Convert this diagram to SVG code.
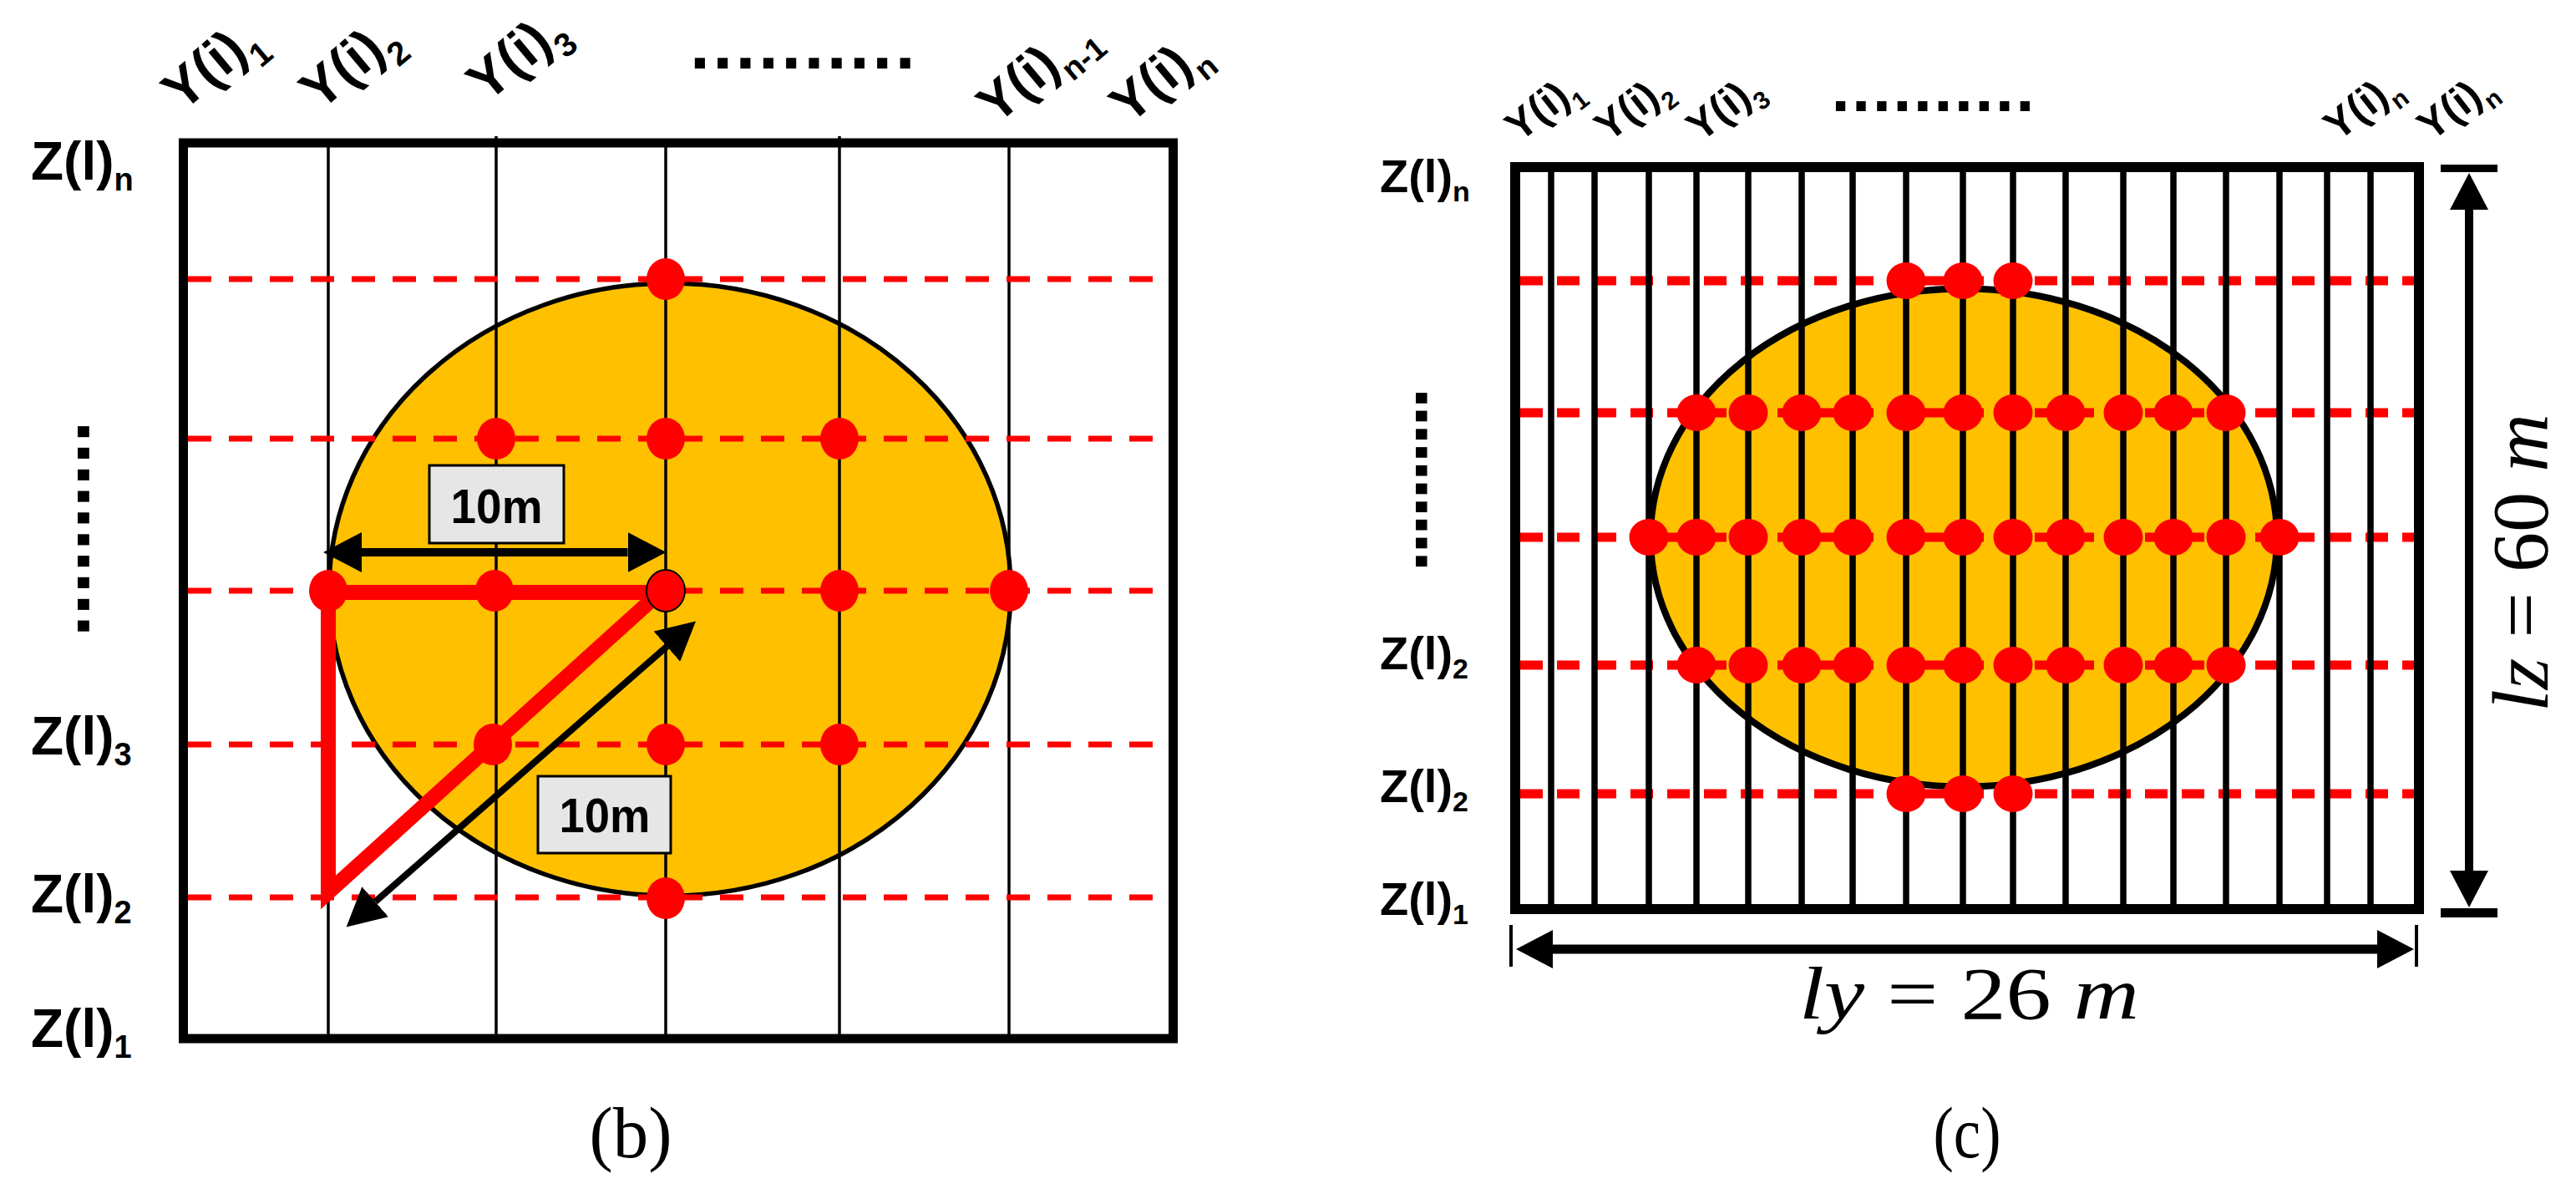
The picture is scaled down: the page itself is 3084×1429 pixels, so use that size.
<svg xmlns="http://www.w3.org/2000/svg" width="3084" height="1429" viewBox="0 0 3084 1429">
<defs>
<style>
.lbl{font-family:"Liberation Sans",Arial,Helvetica,sans-serif;font-weight:bold;fill:#000}
.math{font-family:"Liberation Serif","Times New Roman",Times,serif;fill:#000}
.frame{fill:none;stroke:#000}
.vb{stroke:#000;stroke-width:3.5}
.vc{stroke:#000;stroke-width:7.5}
.dashb{stroke:#f00;stroke-width:7;stroke-dasharray:28 21}
.dashc{stroke:#f00;stroke-width:11;stroke-dasharray:27 17}
.dot{fill:#f00}
.box{fill:#e6e6e6;stroke:#000;stroke-width:3}
.arr{stroke:#000;fill:none}
</style>
<marker id="ahb" viewBox="0 0 46 48" markerWidth="46" markerHeight="48" refX="0" refY="24" orient="auto-start-reverse" markerUnits="userSpaceOnUse"><path d="M0,0L46,24L0,48z" fill="#000"/></marker>
<marker id="ahc" viewBox="0 0 44 46" markerWidth="44" markerHeight="46" refX="0" refY="23" orient="auto-start-reverse" markerUnits="userSpaceOnUse"><path d="M0,0L44,23L0,46z" fill="#000"/></marker>
</defs>
<rect width="3084" height="1429" fill="#fff"/>

<!-- ===== Panel (b) ===== -->
<g id="panel-b">
  <g id="b-frame">
    <rect class="frame" x="219.5" y="171" width="1185" height="1072" stroke-width="11"/>
  </g>
  <g id="b-circle">
    <ellipse cx="802" cy="705.5" rx="408" ry="366.5" fill="#FFC000" stroke="#000" stroke-width="5.5"/>
  </g>
  <g id="b-grid-vertical">
    <line class="vb" x1="393" y1="171" x2="393" y2="1243"/>
    <line class="vb" x1="594" y1="163" x2="594" y2="1243"/>
    <line class="vb" x1="797" y1="171" x2="797" y2="1243"/>
    <line class="vb" x1="1005" y1="163" x2="1005" y2="1243"/>
    <line class="vb" x1="1208" y1="171" x2="1208" y2="1243"/>
  </g>
  <g id="b-grid-horizontal">
    <line class="dashb" x1="225" y1="334" x2="1399" y2="334"/>
    <line class="dashb" x1="225" y1="525" x2="1399" y2="525"/>
    <line class="dashb" x1="225" y1="707" x2="1399" y2="707"/>
    <line class="dashb" x1="225" y1="891" x2="1399" y2="891"/>
    <line class="dashb" x1="225" y1="1074" x2="1399" y2="1074"/>
  </g>
  <g id="b-triangle">
    <polygon points="393,709 790,709 393,1068" fill="none" stroke="#f00" stroke-width="18" stroke-linejoin="miter" stroke-miterlimit="4"/>
  </g>
  <g id="b-points">
    <ellipse class="dot" cx="797" cy="334" rx="23" ry="25"/>
    <ellipse class="dot" cx="594" cy="525" rx="23" ry="25"/>
    <ellipse class="dot" cx="797" cy="525" rx="23" ry="25"/>
    <ellipse class="dot" cx="1005" cy="525" rx="23" ry="25"/>
    <ellipse class="dot" cx="393" cy="707" rx="23" ry="25"/>
    <ellipse class="dot" cx="592" cy="707" rx="23" ry="25"/>
    <ellipse class="dot" cx="797" cy="707" rx="23" ry="25" stroke="#000" stroke-width="2"/>
    <ellipse class="dot" cx="1005" cy="707" rx="23" ry="25"/>
    <ellipse class="dot" cx="1208" cy="707" rx="23" ry="25"/>
    <ellipse class="dot" cx="590" cy="891" rx="23" ry="25"/>
    <ellipse class="dot" cx="797" cy="891" rx="23" ry="25"/>
    <ellipse class="dot" cx="1005" cy="891" rx="23" ry="25"/>
    <ellipse class="dot" cx="797" cy="1075" rx="23" ry="25"/>
  </g>
  <g id="b-connectors">
    <line class="arr" x1="433" y1="661" x2="751.5" y2="661" stroke-width="10" marker-start="url(#ahb)" marker-end="url(#ahb)"/>
    <line class="arr" x1="449.2" y1="1079.2" x2="798.4" y2="773.7" stroke-width="8" marker-start="url(#ahb)" marker-end="url(#ahb)"/>
  </g>
  <g id="b-label-10m-h">
    <rect class="box" x="514" y="557" width="161" height="93"/>
    <text class="lbl" x="594.5" y="626" font-size="58" text-anchor="middle" textLength="110" lengthAdjust="spacingAndGlyphs">10m</text>
  </g>
  <g id="b-label-10m-d">
    <rect class="box" x="644" y="929" width="159" height="92"/>
    <text class="lbl" x="724" y="996" font-size="58" text-anchor="middle" textLength="109" lengthAdjust="spacingAndGlyphs">10m</text>
  </g>
  <g id="b-y-labels">
    <text class="lbl" font-size="66" transform="translate(218,135) rotate(-40)">Y(i)<tspan font-size="40" dy="20">1</tspan></text>
    <text class="lbl" font-size="66" transform="translate(383,134) rotate(-40)">Y(i)<tspan font-size="40" dy="20">2</tspan></text>
    <text class="lbl" font-size="66" transform="translate(583,124) rotate(-40)">Y(i)<tspan font-size="40" dy="20">3</tspan></text>
    <text class="lbl" font-size="64" transform="translate(1193,150) rotate(-40)">Y(i)<tspan font-size="38" dy="19">n-1</tspan></text>
    <text class="lbl" font-size="64" transform="translate(1352,150) rotate(-40)">Y(i)<tspan font-size="38" dy="19">n</tspan></text>
    <text class="lbl" x="826" y="82" font-size="86" letter-spacing="3.4">..........</text>
  </g>
  <g id="b-z-labels">
    <text class="lbl" x="37" y="215" font-size="64">Z(l)<tspan font-size="38" dy="13">n</tspan></text>
    <text class="lbl" font-size="93" transform="translate(93,503.7) rotate(90)">..........</text>
    <text class="lbl" x="37" y="903" font-size="64">Z(l)<tspan font-size="38" dy="13">3</tspan></text>
    <text class="lbl" x="37" y="1092" font-size="64">Z(l)<tspan font-size="38" dy="13">2</tspan></text>
    <text class="lbl" x="37" y="1253" font-size="64">Z(l)<tspan font-size="38" dy="13">1</tspan></text>
  </g>
  <text class="math" x="755" y="1385" font-size="86" text-anchor="middle" textLength="99" lengthAdjust="spacingAndGlyphs">(b)</text>
</g>

<!-- ===== Panel (c) ===== -->
<g id="panel-c">
  <g id="c-circle">
    <ellipse cx="2351" cy="643.5" rx="375" ry="298" fill="#FFC000" stroke="#000" stroke-width="8"/>
  </g>
  <g id="c-grid-horizontal">
    <line class="dashc" x1="1820" y1="336" x2="2890" y2="336"/>
    <line class="dashc" x1="1820" y1="494" x2="2890" y2="494"/>
    <line class="dashc" x1="1820" y1="643" x2="2890" y2="643"/>
    <line class="dashc" x1="1820" y1="796" x2="2890" y2="796"/>
    <line class="dashc" x1="1820" y1="950" x2="2890" y2="950"/>
  </g>
  <g id="c-grid-vertical">
    <line class="vc" x1="1857" y1="200" x2="1857" y2="1088"/>
    <line class="vc" x1="1909" y1="200" x2="1909" y2="1088"/>
    <line class="vc" x1="1974" y1="200" x2="1974" y2="1088"/>
    <line class="vc" x1="2031" y1="200" x2="2031" y2="1088"/>
    <line class="vc" x1="2093" y1="200" x2="2093" y2="1088"/>
    <line class="vc" x1="2157" y1="200" x2="2157" y2="1088"/>
    <line class="vc" x1="2218" y1="200" x2="2218" y2="1088"/>
    <line class="vc" x1="2282" y1="200" x2="2282" y2="1088"/>
    <line class="vc" x1="2350" y1="200" x2="2350" y2="1088"/>
    <line class="vc" x1="2410" y1="200" x2="2410" y2="1088"/>
    <line class="vc" x1="2473" y1="200" x2="2473" y2="1088"/>
    <line class="vc" x1="2542" y1="200" x2="2542" y2="1088"/>
    <line class="vc" x1="2602" y1="200" x2="2602" y2="1088"/>
    <line class="vc" x1="2665" y1="200" x2="2665" y2="1088"/>
    <line class="vc" x1="2729" y1="200" x2="2729" y2="1088"/>
    <line class="vc" x1="2786" y1="200" x2="2786" y2="1088"/>
    <line class="vc" x1="2838" y1="200" x2="2838" y2="1088"/>
  </g>
  <g id="c-frame">
    <rect class="frame" x="1814" y="200" width="1082" height="888" stroke-width="12"/>
  </g>
  <g id="c-points">
    <ellipse class="dot" cx="2282" cy="336" rx="23.5" ry="22"/>
    <ellipse class="dot" cx="2350" cy="336" rx="23.5" ry="22"/>
    <ellipse class="dot" cx="2410" cy="336" rx="23.5" ry="22"/>

    <ellipse class="dot" cx="2031" cy="494" rx="23.5" ry="22"/>
    <ellipse class="dot" cx="2093" cy="494" rx="23.5" ry="22"/>
    <ellipse class="dot" cx="2157" cy="494" rx="23.5" ry="22"/>
    <ellipse class="dot" cx="2218" cy="494" rx="23.5" ry="22"/>
    <ellipse class="dot" cx="2282" cy="494" rx="23.5" ry="22"/>
    <ellipse class="dot" cx="2350" cy="494" rx="23.5" ry="22"/>
    <ellipse class="dot" cx="2410" cy="494" rx="23.5" ry="22"/>
    <ellipse class="dot" cx="2473" cy="494" rx="23.5" ry="22"/>
    <ellipse class="dot" cx="2542" cy="494" rx="23.5" ry="22"/>
    <ellipse class="dot" cx="2602" cy="494" rx="23.5" ry="22"/>
    <ellipse class="dot" cx="2665" cy="494" rx="23.5" ry="22"/>

    <ellipse class="dot" cx="1974" cy="643" rx="23.5" ry="22"/>
    <ellipse class="dot" cx="2031" cy="643" rx="23.5" ry="22"/>
    <ellipse class="dot" cx="2093" cy="643" rx="23.5" ry="22"/>
    <ellipse class="dot" cx="2157" cy="643" rx="23.5" ry="22"/>
    <ellipse class="dot" cx="2218" cy="643" rx="23.5" ry="22"/>
    <ellipse class="dot" cx="2282" cy="643" rx="23.5" ry="22"/>
    <ellipse class="dot" cx="2350" cy="643" rx="23.5" ry="22"/>
    <ellipse class="dot" cx="2410" cy="643" rx="23.5" ry="22"/>
    <ellipse class="dot" cx="2473" cy="643" rx="23.5" ry="22"/>
    <ellipse class="dot" cx="2542" cy="643" rx="23.5" ry="22"/>
    <ellipse class="dot" cx="2602" cy="643" rx="23.5" ry="22"/>
    <ellipse class="dot" cx="2665" cy="643" rx="23.5" ry="22"/>
    <ellipse class="dot" cx="2729" cy="643" rx="23.5" ry="22"/>

    <ellipse class="dot" cx="2031" cy="796" rx="23.5" ry="22"/>
    <ellipse class="dot" cx="2093" cy="796" rx="23.5" ry="22"/>
    <ellipse class="dot" cx="2157" cy="796" rx="23.5" ry="22"/>
    <ellipse class="dot" cx="2218" cy="796" rx="23.5" ry="22"/>
    <ellipse class="dot" cx="2282" cy="796" rx="23.5" ry="22"/>
    <ellipse class="dot" cx="2350" cy="796" rx="23.5" ry="22"/>
    <ellipse class="dot" cx="2410" cy="796" rx="23.5" ry="22"/>
    <ellipse class="dot" cx="2473" cy="796" rx="23.5" ry="22"/>
    <ellipse class="dot" cx="2542" cy="796" rx="23.5" ry="22"/>
    <ellipse class="dot" cx="2602" cy="796" rx="23.5" ry="22"/>
    <ellipse class="dot" cx="2665" cy="796" rx="23.5" ry="22"/>

    <ellipse class="dot" cx="2282" cy="950" rx="23.5" ry="22"/>
    <ellipse class="dot" cx="2350" cy="950" rx="23.5" ry="22"/>
    <ellipse class="dot" cx="2410" cy="950" rx="23.5" ry="22"/>
  </g>
  <g id="c-connectors">
    <line class="arr" x1="1859" y1="1136" x2="2846" y2="1136" stroke-width="11" marker-start="url(#ahc)" marker-end="url(#ahc)"/>
    <line x1="1809" y1="1107" x2="1809" y2="1157" stroke="#000" stroke-width="4"/>
    <line x1="2893" y1="1107" x2="2893" y2="1157" stroke="#000" stroke-width="4"/>
    <line class="arr" x1="2956" y1="251" x2="2956" y2="1042" stroke-width="10" marker-start="url(#ahc)" marker-end="url(#ahc)"/>
    <rect x="2922" y="197" width="68" height="9" fill="#000"/>
    <rect x="2922" y="1087" width="68" height="11" fill="#000"/>
  </g>
  <g id="c-y-labels">
    <text class="lbl" font-size="50" transform="translate(1819,171) rotate(-38)">Y(i)<tspan font-size="30" dy="15">1</tspan></text>
    <text class="lbl" font-size="50" transform="translate(1926,171) rotate(-38)">Y(i)<tspan font-size="30" dy="15">2</tspan></text>
    <text class="lbl" font-size="50" transform="translate(2036,171) rotate(-38)">Y(i)<tspan font-size="30" dy="15">3</tspan></text>
    <text class="lbl" font-size="50" transform="translate(2799,170) rotate(-38)">Y(i)<tspan font-size="30" dy="15">n</tspan></text>
    <text class="lbl" font-size="50" transform="translate(2911,170) rotate(-38)">Y(i)<tspan font-size="30" dy="15">n</tspan></text>
    <text class="lbl" x="2192.6" y="133" font-size="80" letter-spacing="2.3">..........</text>
  </g>
  <g id="c-z-labels">
    <text class="lbl" x="1652" y="230" font-size="56">Z(l)<tspan font-size="34" dy="11">n</tspan></text>
    <text class="lbl" font-size="90" letter-spacing="-3.3" transform="translate(1694.7,463.9) rotate(90)">..........</text>
    <text class="lbl" x="1652" y="801" font-size="56">Z(l)<tspan font-size="34" dy="11">2</tspan></text>
    <text class="lbl" x="1652" y="960" font-size="56">Z(l)<tspan font-size="34" dy="11">2</tspan></text>
    <text class="lbl" x="1652" y="1095" font-size="56">Z(l)<tspan font-size="34" dy="11">1</tspan></text>
  </g>
  <g id="c-dimensions">
    <text class="math" font-size="96" text-anchor="middle" transform="translate(3017,673.5) rotate(-90)" y="33" textLength="357" lengthAdjust="spacingAndGlyphs"><tspan font-style="italic">lz</tspan> = 60 <tspan font-style="italic">m</tspan></text>
    <text class="math" x="2357.5" y="1219" font-size="88" text-anchor="middle" textLength="407" lengthAdjust="spacingAndGlyphs"><tspan font-style="italic">ly</tspan> = 26 <tspan font-style="italic">m</tspan></text>
  </g>
  <text class="math" x="2355" y="1385" font-size="86" text-anchor="middle" textLength="81" lengthAdjust="spacingAndGlyphs">(c)</text>
</g>
</svg>
